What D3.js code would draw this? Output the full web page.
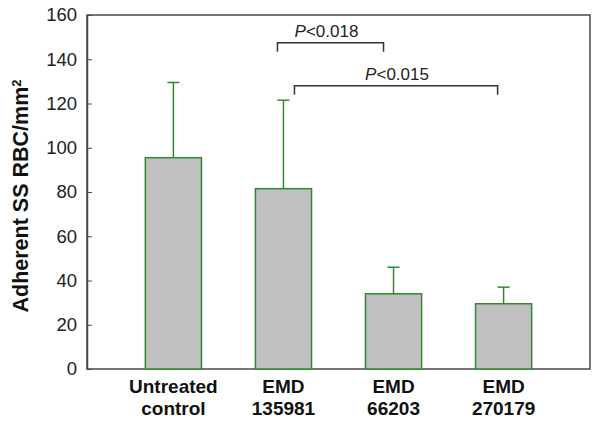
<!DOCTYPE html>
<html><head><meta charset="utf-8">
<script src="https://cdn.jsdelivr.net/npm/d3@7"></script>
<style>body{margin:0;background:#fff}svg{display:block}</style>
</head><body>
<script>
const categories = [["Untreated","control"],["EMD","135981"],["EMD","66203"],["EMD","270179"]];
const means = [95.5, 81.5, 34, 29.5];
const errTop = [129.5, 121.5, 46, 37];
const yTicks = [0,20,40,60,80,100,120,140,160];
const comparisons = [
  {from:1, to:2, label:"0.018", level:147.5},
  {from:1, to:3, label:"0.015", level:128}
];

const W=600,H=423;
const m={left:87,right:10,top:15,bottom:54};
const FONT="'Liberation Sans', Arial, sans-serif";
const svg=d3.select("body").append("svg").attr("width",W).attr("height",H);
const x=d3.scaleBand().domain(d3.range(categories.length)).range([m.left, W-m.right]).paddingInner(0.49).paddingOuter(0.53);
const y=d3.scaleLinear().domain([0,160]).range([H-m.bottom, m.top]);

const axisColor="#4a4a4a";
svg.append("rect").attr("x",m.left).attr("y",m.top).attr("width",W-m.right-m.left).attr("height",H-m.bottom-m.top)
  .attr("fill","none").attr("stroke",axisColor).attr("stroke-width",1.5);

const ya=svg.append("g").attr("transform",`translate(${m.left},0)`)
  .call(d3.axisLeft(y).tickValues(yTicks).tickSizeInner(-5).tickSizeOuter(0).tickPadding(10));
ya.select(".domain").attr("stroke",axisColor).attr("stroke-width",1.5);
ya.selectAll(".tick line").attr("stroke",axisColor);
ya.selectAll("text").attr("font-family",FONT).attr("font-size",18.5).attr("fill","#222");

svg.append("text").attr("transform",`translate(28,${(m.top+H-m.bottom)/2 + 4}) rotate(-90)`)
  .attr("text-anchor","middle").attr("font-family",FONT)
  .attr("font-weight","bold").attr("font-size",21.5).attr("fill","#111")
  .text("Adherent SS RBC/mm").append("tspan").attr("baseline-shift","super").attr("font-size",13).text("2");

const green="#2f8a2f";
const bw=x.bandwidth();
categories.forEach((c,i)=>{
  const cx=x(i)+bw/2;
  svg.append("line").attr("x1",cx).attr("x2",cx).attr("y1",y(means[i])).attr("y2",y(errTop[i])).attr("stroke",green).attr("stroke-width",1.5);
  svg.append("line").attr("x1",cx-6).attr("x2",cx+6).attr("y1",y(errTop[i])).attr("y2",y(errTop[i])).attr("stroke",green).attr("stroke-width",1.5);
});
svg.selectAll("rect.bar").data(means).join("rect").attr("class","bar")
  .attr("x",(d,i)=>x(i)).attr("y",d=>y(d)).attr("width",bw).attr("height",d=>y(0)-y(d))
  .attr("fill","#c0c0c0").attr("stroke",green).attr("stroke-width",1.5);

categories.forEach((c,i)=>{
  const t=svg.append("text").attr("text-anchor","middle").attr("font-family",FONT)
    .attr("font-weight","bold").attr("font-size",19).attr("fill","#111");
  c.forEach((s,j)=>t.append("tspan").attr("x",x(i)+bw/2).attr("y",393+j*22).text(s));
});

const bc="#333";
comparisons.forEach((cmp,k)=>{
  const x1 = x(cmp.from)+bw/2 + (k===0 ? -6 : 11);
  const x2 = x(cmp.to)+bw/2 + (k===0 ? -10 : -6);
  const yy = y(cmp.level);
  svg.append("path").attr("d",`M${x1},${yy+9}V${yy}H${x2}V${yy+9}`).attr("fill","none").attr("stroke",bc).attr("stroke-width",1.5);
  const t=svg.append("text").attr("x",(x1+x2)/2 + (k===0?-4:1)).attr("y",yy-6).attr("text-anchor","middle")
    .attr("font-family",FONT).attr("font-size",17).attr("fill","#222");
  t.append("tspan").attr("font-style","italic").text("P");
  t.append("tspan").text("<"+cmp.label);
});
</script>
</body></html>
